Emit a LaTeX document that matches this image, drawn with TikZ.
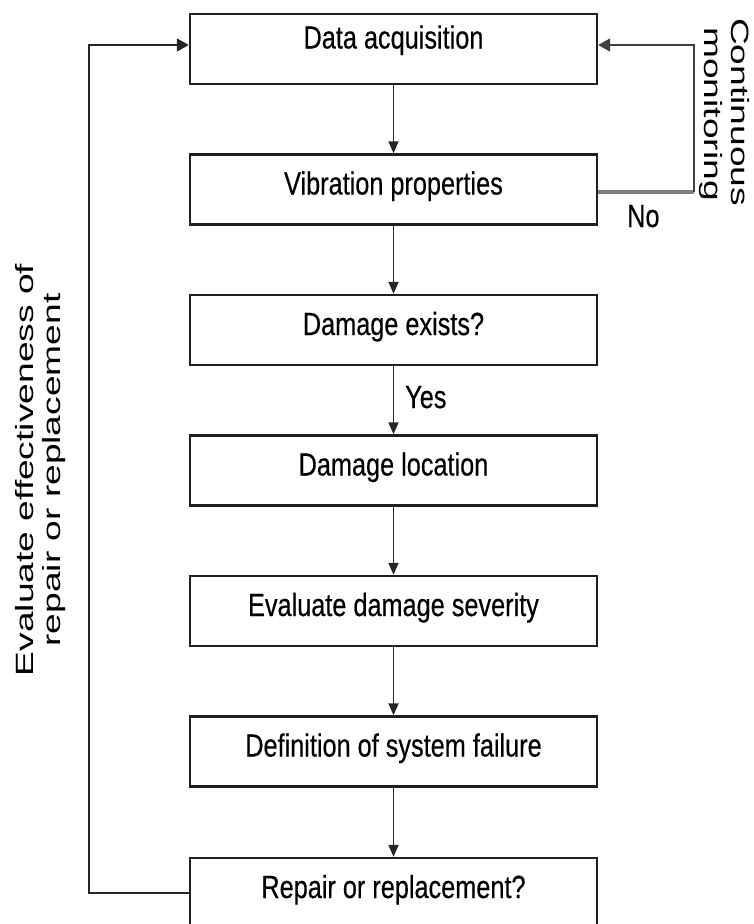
\documentclass[tikz,border=0pt]{standalone}
\usepackage{fontspec}
\usetikzlibrary{arrows.meta}
\newfontfamily\labfont{Liberation Sans}
\newfontfamily\boxfont{Liberation Sans}[FakeBold=0.45]
% condensed labels for the boxes, stretched labels for the side notes
\newcommand{\cond}[1]{\scalebox{0.79}[1]{#1}}
\newcommand{\wide}[1]{\scalebox{1.486}[1]{#1}}
\begin{document}
\begin{tikzpicture}[x=1pt,y=-1pt,
  stepbox/.style={draw=black!88, line width=2.4pt, minimum width=407pt,
    minimum height=70pt, inner sep=0pt, text height=23pt, text depth=13pt,
    font=\boxfont\fontsize{32}{36}\selectfont},
  flow/.style={-{Triangle[length=12pt,width=10pt]}, line width=1.8pt, draw=black!85},
  sidenote/.style={font=\labfont\fontsize{25}{28}\selectfont, inner sep=0pt},
  branch/.style={font=\boxfont\fontsize{32}{36}\selectfont, inner sep=0pt}]
\useasboundingbox (0,0) rectangle (754,924);
\clip (0,0) rectangle (754,924);

% process steps
\node[stepbox, text depth=24pt] (acq) at (393.5,49)  {\cond{Data acquisition}};
\node[stepbox] (vib) at (393.5,189.5) {\cond{Vibration properties}};
\node[stepbox] (ex)  at (393.5,330) {\cond{Damage exists?}};
\node[stepbox] (loc) at (393.5,470.5) {\cond{Damage location}};
\node[stepbox] (sev) at (393.5,611) {\cond{Evaluate damage severity}};
\node[stepbox] (fail) at (393.5,751.5) {\cond{Definition of system failure}};
\node[stepbox] (rep) at (393.5,893) {\cond{Repair or replacement?}};

% main flow
\draw[flow] (acq) -- (vib);
\draw[flow] (vib) -- (ex);
\draw[flow] (ex) -- (loc);
\draw[flow] (loc) -- (sev);
\draw[flow] (sev) -- (fail);
\draw[flow] (fail) -- (rep);

\node[branch, anchor=base west] (yes) at (405,408) {\cond{Yes}};

% continuous monitoring loop
\coordinate (rc) at (694,192);
\draw[line width=3.5pt, draw=black!50] ([yshift=-2.5pt]vib.east) -- (rc);
\draw[flow, draw=black!75, -{Triangle[length=12pt,width=13pt]}] (rc) |- ([yshift=4pt]acq.east);
\node[branch, anchor=base west] (no) at (627,227) {\cond{No}};
\node[sidenote, rotate=-90, anchor=base] (cm1) at (731,112) {\wide{Continuous}};
\node[sidenote, rotate=-90, anchor=base] (cm2) at (704,114) {\wide{monitoring}};

% repair feedback loop
\coordinate (lc) at (89,893);
\draw[flow, -{Triangle[length=12pt,width=13pt]}] (rep.west) -- (lc) |- ([yshift=4pt]acq.west);
\node[sidenote, rotate=90, anchor=base] (ev1) at (33,470) {\wide{Evaluate effectiveness of}};
\node[sidenote, rotate=90, anchor=base] (ev2) at (60,470) {\wide{repair or replacement}};
\end{tikzpicture}
\end{document}
